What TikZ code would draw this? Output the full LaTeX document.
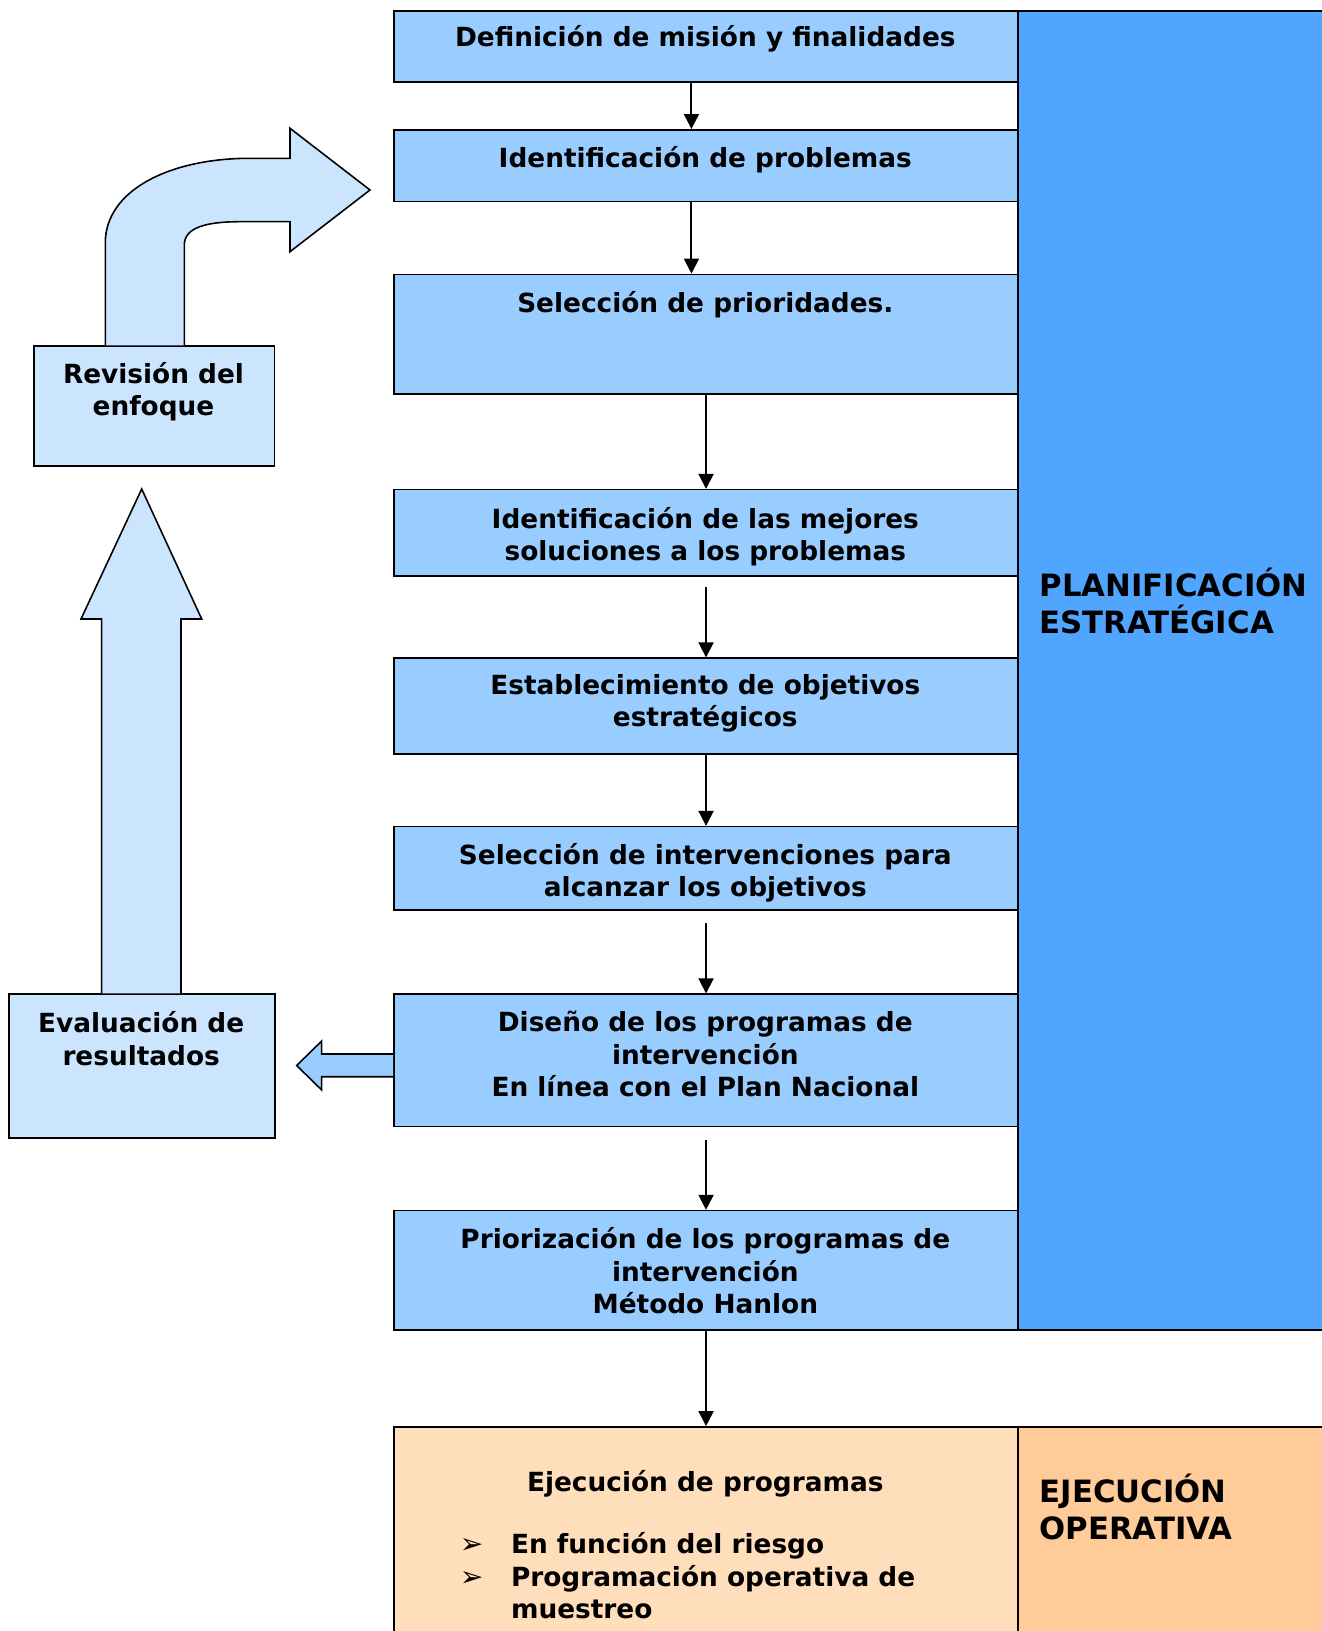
\documentclass[tikz,border=0pt]{standalone}
\usepackage{fontspec}
\setmainfont{DejaVu Sans}
\usetikzlibrary{arrows.meta}
\definecolor{boxblue}{RGB}{153,204,255}
\definecolor{colblue}{RGB}{80,166,255}
\definecolor{lightblue}{RGB}{204,229,255}
\definecolor{peach}{RGB}{255,222,188}
\definecolor{orangecol}{RGB}{255,204,153}
\newcommand\bodyfont{\bfseries\fontsize{15}{18.5}\selectfont\rule{0pt}{15pt}}
\newcommand\titlefont{\bfseries\fontsize{17.5}{20.7}\selectfont\rule{0pt}{17.5pt}}
\begin{document}
\begin{tikzpicture}[x=0.02cm,y=-0.02cm,
  boxnode/.style={draw=black,line width=0.9pt,rectangle,inner sep=0pt,anchor=north west},
  txt/.style={inner sep=0pt,align=center,anchor=north,font=\bodyfont},
  ttl/.style={inner sep=0pt,align=left,anchor=north west,font=\titlefont},
  flow/.style={line width=1.1pt,-{Triangle[length=8.5pt,width=8.5pt]}},
  bigarrow/.style={draw=black,line width=0.9pt,line join=miter}]
\useasboundingbox (0,0) rectangle (1321,1631);
% columns
\node[boxnode,fill=colblue,minimum width={313*0.02cm},minimum height={1319*0.02cm}] (col) at (1017.3,10.4) {};
\node[boxnode,fill=orangecol,minimum width={313*0.02cm},minimum height={214*0.02cm}] (ocol) at (1017.3,1426.1) {};
% main boxes
\node[boxnode,fill=boxblue,minimum width={624.1*0.02cm},minimum height={70.7*0.02cm}] (b1) at (393.2,10.4) {};
\node[boxnode,fill=boxblue,minimum width={624.1*0.02cm},minimum height={71.8*0.02cm}] (b2) at (393.2,129) {};
\node[boxnode,fill=boxblue,minimum width={624.1*0.02cm},minimum height={119.6*0.02cm}] (b3) at (393.2,273.6) {};
\node[boxnode,fill=boxblue,minimum width={624.1*0.02cm},minimum height={86.3*0.02cm}] (b4) at (393.2,488.9) {};
\node[boxnode,fill=boxblue,minimum width={624.1*0.02cm},minimum height={95.7*0.02cm}] (b5) at (393.2,657.4) {};
\node[boxnode,fill=boxblue,minimum width={624.1*0.02cm},minimum height={83.2*0.02cm}] (b6) at (393.2,825.9) {};
\node[boxnode,fill=boxblue,minimum width={624.1*0.02cm},minimum height={132.1*0.02cm}] (b7) at (393.2,993.4) {};
\node[boxnode,fill=boxblue,minimum width={624.1*0.02cm},minimum height={119.6*0.02cm}] (b8) at (393.2,1209.8) {};
\node[boxnode,fill=peach,minimum width={624.1*0.02cm},minimum height={214*0.02cm}] (b9) at (393.2,1426.1) {};
% left boxes
\node[boxnode,fill=lightblue,minimum width={240.3*0.02cm},minimum height={119.7*0.02cm}] (rev) at (33.3,345.3) {};
\node[boxnode,fill=lightblue,minimum width={265.7*0.02cm},minimum height={143.9*0.02cm}] (eva) at (8.3,993.4) {};
% texts
\node[txt] (t1) at (705.3,19.5) {Definición de misión y finalidades};
\node[txt] (t2) at (705.3,141.2) {Identificación de problemas};
\node[txt] (t3) at (705.3,285.8) {Selección de prioridades.};
\node[txt] (t4) at (705.3,506.6) {Identificación de las mejores\\soluciones a los problemas};
\node[txt] (t5) at (705.3,674.1) {Establecimiento de objetivos\\estratégicos};
\node[txt] (t6) at (705.3,842.6) {Selección de intervenciones para\\alcanzar los objetivos};
\node[txt] (t7) at (705.3,1011.1) {Diseño de los programas de\\intervención\\En línea con el Plan Nacional};
\node[txt] (t8) at (705.3,1227.5) {Priorización de los programas de\\intervención\\Método Hanlon};
\node[txt] (t9) at (705.3,1464.3) {Ejecución de programas};
\node[inner sep=0pt,anchor=north west,font=\bodyfont] (t9list) at (431.7,1530.8)
  {\begin{tabular}{@{}p{1.58cm}@{}l@{}}
   \makebox[1.58cm][c]{\fontsize{16}{14}\selectfont ➢} & En función del riesgo\\
   \makebox[1.58cm][c]{\fontsize{16}{14}\selectfont ➢} & Programación operativa de\\
   & muestreo
   \end{tabular}};
\node[txt] (trev) at (153.5,362) {Revisión del\\enfoque};
\node[txt] (teva) at (141.2,1011.1) {Evaluación de\\resultados};
\node[ttl] (tplan) at (1039.2,568) {PLANIFICACIÓN\\ESTRATÉGICA};
\node[ttl] (tejec) at (1039.2,1474) {EJECUCIÓN\\OPERATIVA};
% flow arrows
\coordinate (a1s) at ([xshift={-14.6*0.02cm}]b1.south);
\coordinate (a2e) at ([xshift={-14.6*0.02cm}]b2.north);
\coordinate (a2s) at ([xshift={-14.6*0.02cm}]b2.south);
\coordinate (a3e) at ([xshift={-14.6*0.02cm}]b3.north);
\draw[flow] (a1s) -- (a2e);
\draw[flow] (a2s) -- (a3e);
\draw[flow] (b3.south) -- (b4.north);
\draw[flow] ([yshift={-10*0.02cm}]b4.south) -- (b5.north);
\draw[flow] (b5.south) -- (b6.north);
\draw[flow] ([yshift={-12.5*0.02cm}]b6.south) -- (b7.north);
\draw[flow] ([yshift={-12.5*0.02cm}]b7.south) -- (b8.north);
\draw[flow] (b8.south) -- (b9.north);
% up block arrow from evaluation to revision
\draw[bigarrow,fill=lightblue] (101.7,993.4) -- (101.7,619) -- (81,619) -- (141.7,489) -- (201.7,619) -- (181,619) -- (181,993.4);
% curved block arrow from revision to problems
\draw[bigarrow,fill=lightblue] (105.3,345.3) -- (105.3,243)
   .. controls (105.3,190) and (170,158.3) .. (250,158.3) -- (290,158.3)
   -- (290,128.3) -- (370,190) -- (290,251.7) -- (290,221.7) -- (240,221.7)
   .. controls (205,221.7) and (184.3,228) .. (184.3,245) -- (184.3,345.3);
% small left arrow from design to evaluation
\draw[bigarrow,fill=boxblue] (b7.west |- 0,1054) -- (321.7,1054) -- (321.7,1041) -- (296.7,1065.5) -- (321.7,1090) -- (321.7,1076.7) -- (b7.west |- 0,1076.7);
\end{tikzpicture}
\end{document}
